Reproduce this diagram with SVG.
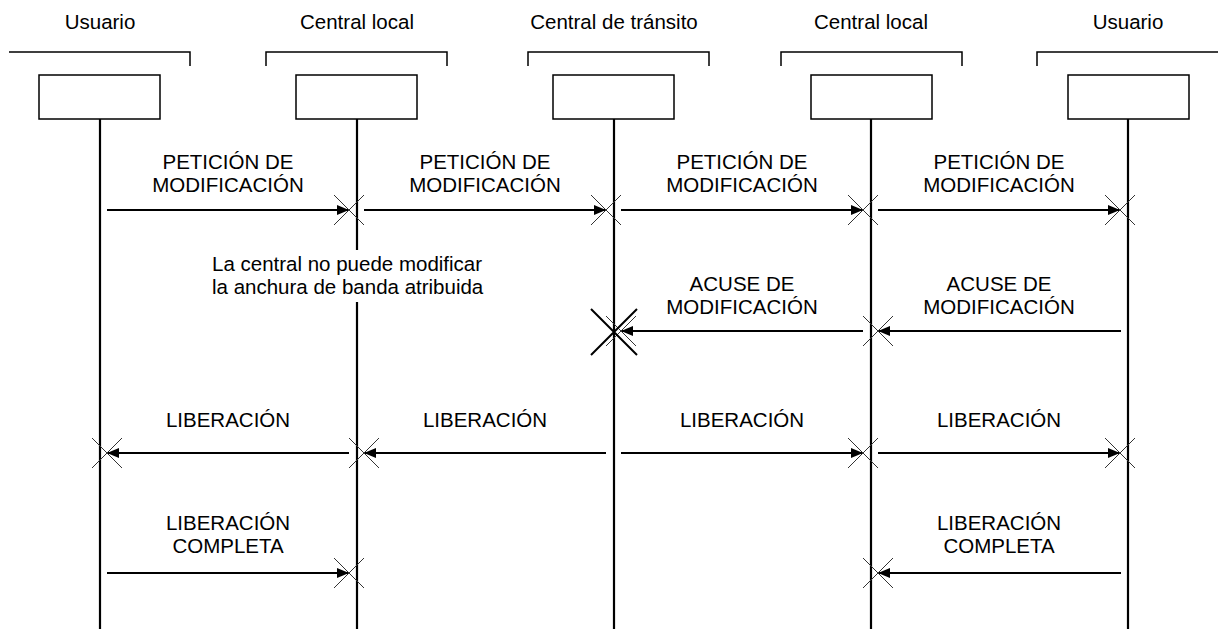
<svg xmlns="http://www.w3.org/2000/svg" width="1218" height="629" viewBox="0 0 1218 629">
<defs>
<style>
text{font-family:"Liberation Sans",Arial,sans-serif;font-size:20.5px;fill:#000;text-anchor:middle}
.br{fill:none;stroke:#000;stroke-width:1.5}
.box{fill:#fff;stroke:#000;stroke-width:1.5}
.life{stroke:#000;stroke-width:2.2;fill:none}
.msg{stroke:#000;stroke-width:2.2;fill:none}
.x{stroke:#333;stroke-width:1;fill:none}
.bigx{stroke:#000;stroke-width:2;fill:none}
</style>
<marker id="ah" viewBox="0 0 12 10" refX="12" refY="5" markerWidth="12" markerHeight="10" markerUnits="userSpaceOnUse" orient="auto">
<path d="M0,0 L12,5 L0,10 Z" fill="#000"/>
</marker>
</defs>
<rect width="1218" height="629" fill="#fff"/>

<g id="usuario1">
<text x="100" y="29">Usuario</text>
<polyline class="br" points="9,52 190,52 190,66"/>
<rect class="box" x="39" y="75" width="121" height="44"/>
<line class="life" x1="100" y1="119" x2="100" y2="629"/>
</g>
<g id="central1">
<text x="357" y="29">Central local</text>
<polyline class="br" points="266,66 266,52 447,52 447,66"/>
<rect class="box" x="296" y="75" width="121" height="44"/>
<line class="life" x1="357" y1="119" x2="357" y2="250"/>
<line class="life" x1="357" y1="302" x2="357" y2="629"/>
</g>
<g id="transito">
<text x="614" y="29">Central de tránsito</text>
<polyline class="br" points="528,66 528,52 709,52 709,66"/>
<rect class="box" x="553" y="75" width="121" height="44"/>
<line class="life" x1="614" y1="119" x2="614" y2="629"/>
</g>
<g id="central2">
<text x="871" y="29">Central local</text>
<polyline class="br" points="781,66 781,52 962,52 962,66"/>
<rect class="box" x="811" y="75" width="121" height="44"/>
<line class="life" x1="871" y1="119" x2="871" y2="629"/>
</g>
<g id="usuario2">
<text x="1128" y="29">Usuario</text>
<polyline class="br" points="1037,66 1037,52 1218,52"/>
<rect class="box" x="1068" y="75" width="121" height="44"/>
<line class="life" x1="1128" y1="119" x2="1128" y2="629"/>
</g>

<g id="note">
<text x="212" y="271" style="text-anchor:start">La central no puede modificar</text>
<text x="212" y="294" style="text-anchor:start">la anchura de banda atribuida</text>
</g>

<g id="labels">
<text x="228" y="169">PETICIÓN DE</text><text x="228" y="192">MODIFICACIÓN</text>
<text x="485" y="169">PETICIÓN DE</text><text x="485" y="192">MODIFICACIÓN</text>
<text x="742" y="169">PETICIÓN DE</text><text x="742" y="192">MODIFICACIÓN</text>
<text x="999" y="169">PETICIÓN DE</text><text x="999" y="192">MODIFICACIÓN</text>
<text x="742" y="291">ACUSE DE</text><text x="742" y="314">MODIFICACIÓN</text>
<text x="999" y="291">ACUSE DE</text><text x="999" y="314">MODIFICACIÓN</text>
<text x="228" y="427">LIBERACIÓN</text>
<text x="485" y="427">LIBERACIÓN</text>
<text x="742" y="427">LIBERACIÓN</text>
<text x="999" y="427">LIBERACIÓN</text>
<text x="228" y="530">LIBERACIÓN</text><text x="228" y="553">COMPLETA</text>
<text x="999" y="530">LIBERACIÓN</text><text x="999" y="553">COMPLETA</text>
</g>

<g id="connectors">
<line class="msg" x1="107" y1="210" x2="349" y2="210" marker-end="url(#ah)"/>
<line class="msg" x1="364" y1="210" x2="606" y2="210" marker-end="url(#ah)"/>
<line class="msg" x1="621" y1="210" x2="863" y2="210" marker-end="url(#ah)"/>
<line class="msg" x1="878" y1="210" x2="1120" y2="210" marker-end="url(#ah)"/>
<line class="msg" x1="1121" y1="331" x2="878" y2="331" marker-end="url(#ah)"/>
<line class="msg" x1="863" y1="331" x2="621" y2="331" marker-end="url(#ah)"/>
<line class="msg" x1="349" y1="453" x2="107" y2="453" marker-end="url(#ah)"/>
<line class="msg" x1="606" y1="453" x2="364" y2="453" marker-end="url(#ah)"/>
<line class="msg" x1="621" y1="453" x2="863" y2="453" marker-end="url(#ah)"/>
<line class="msg" x1="878" y1="453" x2="1120" y2="453" marker-end="url(#ah)"/>
<line class="msg" x1="107" y1="573" x2="349" y2="573" marker-end="url(#ah)"/>
<line class="msg" x1="1121" y1="573" x2="878" y2="573" marker-end="url(#ah)"/>
<path class="x" d="M334,195 L364,225 M334,225 L364,195"/>
<path class="x" d="M591,195 L621,225 M591,225 L621,195"/>
<path class="x" d="M848,195 L878,225 M848,225 L878,195"/>
<path class="x" d="M1105,195 L1135,225 M1105,225 L1135,195"/>
<path class="x" d="M863,316 L893,346 M863,346 L893,316"/>
<path class="x" d="M606,316 L636,346 M606,346 L636,316"/>
<path class="bigx" d="M591,309 L637,355 M591,355 L637,309"/>
<path class="x" d="M92,438 L122,468 M92,468 L122,438"/>
<path class="x" d="M349,438 L379,468 M349,468 L379,438"/>
<path class="x" d="M848,438 L878,468 M848,468 L878,438"/>
<path class="x" d="M1105,438 L1135,468 M1105,468 L1135,438"/>
<path class="x" d="M334,558 L364,588 M334,588 L364,558"/>
<path class="x" d="M863,558 L893,588 M863,588 L893,558"/>
</g>
</svg>
